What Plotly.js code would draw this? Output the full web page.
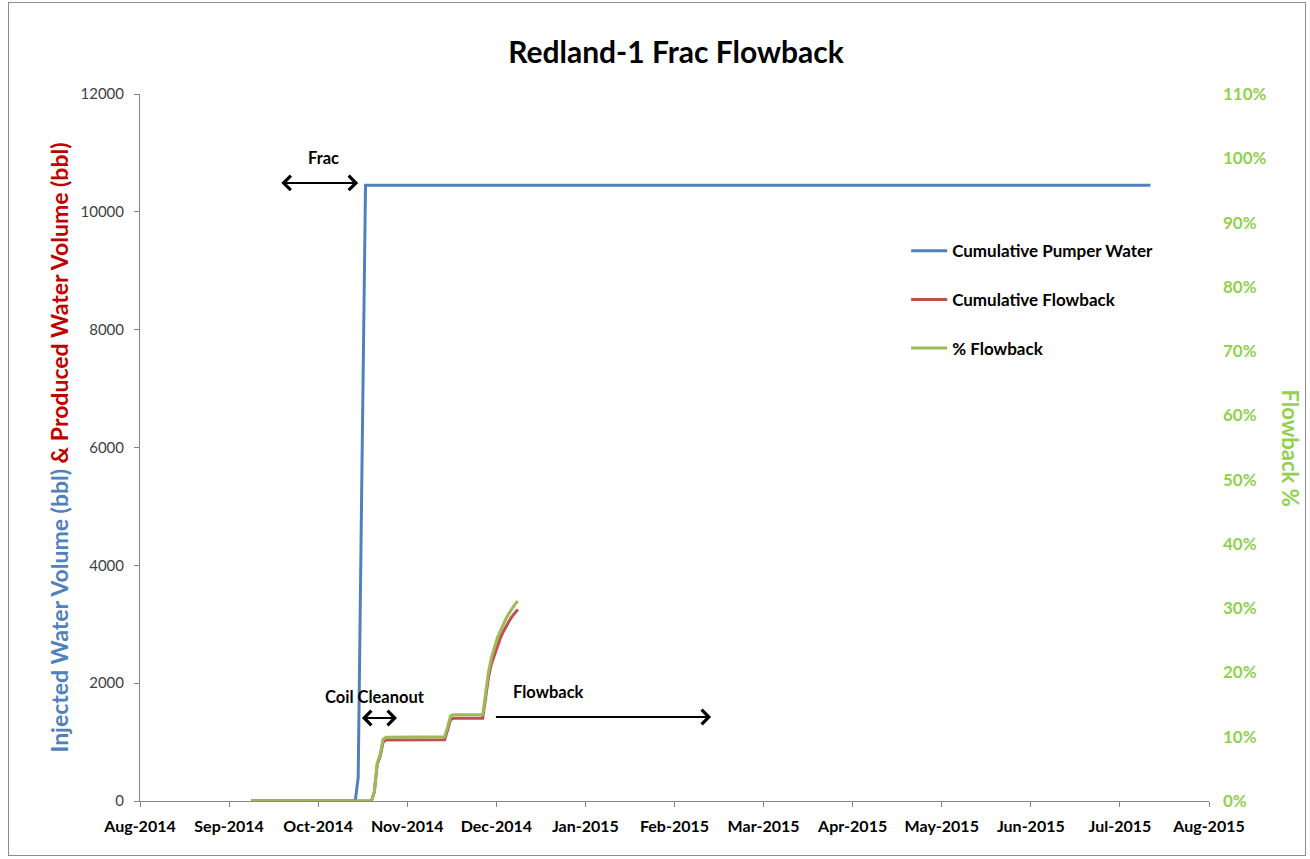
<!DOCTYPE html>
<html>
<head>
<meta charset="utf-8">
<script src="https://cdn.plot.ly/plotly-3.0.1.min.js"></script>
<style>
  html, body { margin: 0; padding: 0; background: #ffffff; }
  #chart { width: 1310px; height: 859px; }
  #frame { position: absolute; left: 8px; top: 2px; width: 1296px; height: 852px;
           border: 1px solid #8c8c8c; pointer-events: none; }
</style>
</head>
<body>
<div id="chart"></div>
<div id="frame"></div>
<script>
// Injected (pumped) water, cumulative bbl
const pumpDates = ['2014-09-08', '2014-10-13 12:00', '2014-10-14 00:00', '2014-10-14 04:00',
  '2014-10-14 12:00', '2014-10-15 12:00', '2014-10-16', '2014-10-17', '2015-07-12'];
const pumpVolume = [0, 0, 200, 300, 400, 4500, 6500, 10450, 10450];

// Produced water (flowback), cumulative bbl, and share of the pumped volume recovered
const flowDates = ['2014-09-08', '2014-10-19', '2014-10-20', '2014-10-21', '2014-10-22', '2014-10-23',
  '2014-10-24', '2014-11-13', '2014-11-14', '2014-11-15', '2014-11-16', '2014-11-26', '2014-11-27',
  '2014-11-28', '2014-11-29', '2014-11-30', '2014-12-01', '2014-12-02', '2014-12-03', '2014-12-04',
  '2014-12-05', '2014-12-06', '2014-12-07', '2014-12-08'];
const flowVolume = [0, 0, 150, 620, 760, 1000, 1036, 1040, 1200, 1380, 1404, 1404, 1750,
  2100, 2330, 2480, 2650, 2760, 2870, 2970, 3050, 3130, 3195, 3250];
const flowPercent = [0, 0, 0.014, 0.059, 0.073, 0.096, 0.099, 0.100, 0.115, 0.132, 0.134, 0.134, 0.167,
  0.201, 0.223, 0.237, 0.254, 0.264, 0.275, 0.284, 0.292, 0.300, 0.306, 0.311];

const monthLabels = ['Aug-2014', 'Sep-2014', 'Oct-2014', 'Nov-2014', 'Dec-2014', 'Jan-2015', 'Feb-2015',
  'Mar-2015', 'Apr-2015', 'May-2015', 'Jun-2015', 'Jul-2015', 'Aug-2015'];
const volumeTicks = [0, 2000, 4000, 6000, 8000, 10000, 12000];
const percentTicks = [0, 0.1, 0.2, 0.3, 0.4, 0.5, 0.6, 0.7, 0.8, 0.9, 1.0, 1.1];

const BLUE = '#4F81BD', RED = '#C0504D', GREEN = '#9BBB59', LIME = '#92D050';
const FONT = 'Lato, "Open Sans", sans-serif';

// x axis spans one year; the month ticks are spaced evenly across it
const start = Date.UTC(2014, 7, 1), end = Date.UTC(2015, 7, 1);
const step = (end - start) / (monthLabels.length - 1);
const monthTicks = monthLabels.map((_, i) => new Date(start + i * step).toISOString());

const traces = [
  { x: pumpDates, y: pumpVolume, name: 'Cumulative Pumper Water', type: 'scatter', mode: 'lines',
    line: { color: BLUE, width: 3 }, legendgroup: 'a' },
  { x: flowDates, y: flowVolume, name: 'Cumulative Flowback', type: 'scatter', mode: 'lines',
    line: { color: RED, width: 3 }, legendgroup: 'b' },
  { x: flowDates, y: flowPercent, name: '% Flowback', type: 'scatter', mode: 'lines',
    line: { color: GREEN, width: 3 }, yaxis: 'y3', legendgroup: 'c' }
];

const boldBlack = { family: FONT, size: 16, color: '#000000', weight: 'bold' };
const noteFont = { family: FONT, size: 16.5, color: '#000000', weight: 'bold' };

// plot area: 140px from the left edge, 1069px wide; the right margin leaves room for the % labels
const plotLeft = 140, plotWidth = 1069, marginRight = 88;
const xDomainEnd = plotWidth / (1310 - plotLeft - marginRight);

const layout = {
  width: 1310, height: 859,
  paper_bgcolor: '#ffffff', plot_bgcolor: '#ffffff',
  margin: { l: plotLeft, r: marginRight, t: 94, b: 58 },
  font: { family: FONT },
  title: { text: 'Redland-1 Frac Flowback', x: 0.516, xanchor: 'center',
           y: 1 - 52 / 859, yanchor: 'middle', yref: 'container',
           font: { family: FONT, size: 30, color: '#000000', weight: 'bold' } },
  xaxis: {
    type: 'date', domain: [0, xDomainEnd],
    range: [new Date(start).toISOString(), new Date(end).toISOString()],
    tickmode: 'array', tickvals: monthTicks, ticktext: monthLabels,
    showgrid: false, zeroline: false, showline: true, linecolor: '#868686', linewidth: 1,
    ticks: 'outside', ticklen: 5, tickcolor: '#868686', ticklabelstandoff: 6,
    tickfont: boldBlack
  },
  yaxis: {
    range: [0, 12000], tickmode: 'array', tickvals: volumeTicks, tickformat: 'd',
    showgrid: false, zeroline: false, showline: true, linecolor: '#868686', linewidth: 1,
    ticks: 'outside', ticklen: 5, tickcolor: '#868686', ticklabelstandoff: 7,
    tickfont: { family: FONT, size: 15, color: '#404040' },
    title: { text: '<b><span style="color:' + BLUE + '">Injected Water Volume (bbl)</span></b> ' +
                   '<b><span style="color:#C00000">&amp; Produced Water Volume (bbl)</span></b>',
             font: { family: FONT, size: 23, weight: 'bold' }, standoff: 5 }
  },
  // percent axis: line and tick marks on the plot edge
  yaxis2: {
    overlaying: 'y', side: 'right', anchor: 'x', range: [0, 1.1], tickmode: 'array', tickvals: percentTicks,
    showticklabels: false, showgrid: false, zeroline: false, showline: true, linecolor: LIME, linewidth: 1,
    ticks: 'outside', ticklen: 5, tickcolor: LIME
  },
  // percent axis labels, set a little further out
  yaxis3: {
    overlaying: 'y', side: 'right', anchor: 'free', position: 1, range: [0, 1.1],
    tickmode: 'array', tickvals: percentTicks, tickformat: '.0%',
    showgrid: false, zeroline: false, showline: false, ticks: '',
    tickfont: { family: FONT, size: 17, color: LIME, weight: 'bold' }
  },
  showlegend: true,
  legend: { x: 0.7167 * xDomainEnd, xanchor: 'left', y: 0.803, yanchor: 'top', bgcolor: 'rgba(0,0,0,0)',
            font: { family: FONT, size: 17, color: '#000000', weight: 'bold' },
            itemwidth: 36, tracegroupgap: 23.5, traceorder: 'grouped' },
  annotations: [
    { xref: 'paper', yref: 'paper', x: (1290 - plotLeft) / (1310 - plotLeft - marginRight),
      xanchor: 'center', y: 0.5, yanchor: 'middle',
      text: 'Flowback %', textangle: 90,
      showarrow: false, font: { family: FONT, size: 22, color: LIME, weight: 'bold' } },
    { x: '2014-10-02 12:00', y: 10915, text: 'Frac', showarrow: false, font: noteFont },
    { x: '2014-10-14 12:00', y: 10490, ax: '2014-09-17 18:00', ay: 10490, axref: 'x', ayref: 'y',
      text: '', showarrow: true, arrowhead: 4, startarrowhead: 4, arrowside: 'end+start',
      arrowsize: 1.4, startarrowsize: 1.4, arrowwidth: 2, arrowcolor: '#000000' },
    { x: '2014-10-20 06:00', y: 1766, text: 'Coil Cleanout', showarrow: false, font: noteFont },
    { x: '2014-10-27 18:00', y: 1409, ax: '2014-10-15 06:00', ay: 1409, axref: 'x', ayref: 'y',
      text: '', showarrow: true, arrowhead: 4, startarrowhead: 4, arrowside: 'end+start',
      arrowsize: 1.4, startarrowsize: 1.4, arrowwidth: 2, arrowcolor: '#000000' },
    { x: '2014-12-18 12:00', y: 1850, text: 'Flowback', showarrow: false, font: noteFont },
    { x: '2015-02-12', y: 1426, ax: '2014-11-30', ay: 1426, axref: 'x', ayref: 'y',
      text: '', showarrow: true, arrowhead: 4, arrowsize: 1.4, arrowwidth: 2, arrowcolor: '#000000' }
  ]
};

Plotly.newPlot('chart', traces, layout, { displayModeBar: false, staticPlot: true });
</script>
</body>
</html>
